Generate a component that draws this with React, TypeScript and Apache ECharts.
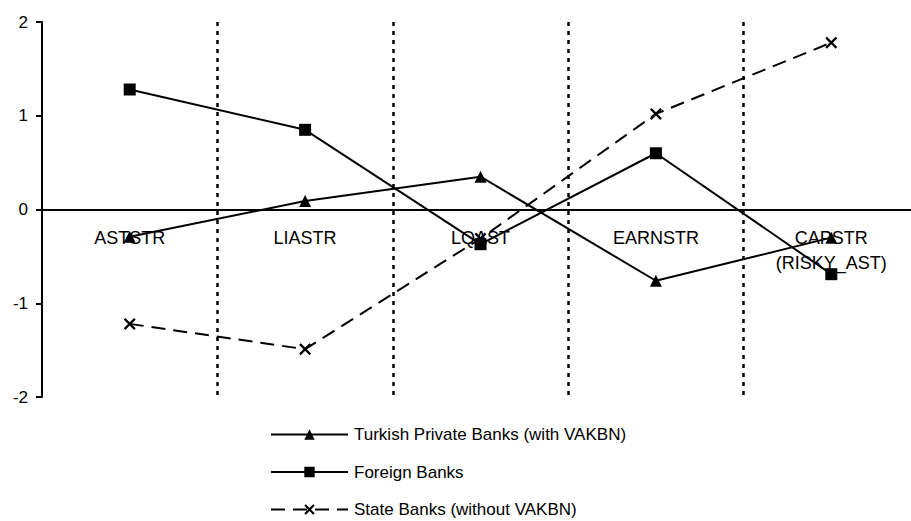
import React, { useEffect, useRef } from "react";
import * as echarts from "echarts";

const categories = ["ASTSTR", "LIASTR", "LQAST", "EARNSTR", "CAPSTR\n(RISKY_AST)"];
const turkishPrivate = [-0.29, 0.09, 0.35, -0.76, -0.3];
const foreignBanks = [1.28, 0.85, -0.37, 0.6, -0.69];
const stateBanks = [-1.22, -1.49, -0.31, 1.02, 1.78];
const yTicks = { min: -2, max: 2, interval: 1 };

const crossSymbol =
  "path://M0,1.4L1.4,0L5,3.6L8.6,0L10,1.4L6.4,5L10,8.6L8.6,10L5,6.4L1.4,10L0,8.6L3.6,5Z";

const FONT = "'Liberation Sans', Arial, sans-serif";

export default function App() {
  const ref = useRef<HTMLDivElement>(null);
  useEffect(() => {
    if (!ref.current) return;
    document.body.style.margin = "0";
    document.body.style.overflow = "hidden";
    document.documentElement.style.overflow = "hidden";
    const chart = echarts.init(ref.current, undefined, { renderer: "svg" });
    chart.setOption({
      animation: false,
      backgroundColor: "#ffffff",
      textStyle: { fontFamily: FONT, color: "#000" },
      grid: {
        left: 42,
        top: 22,
        height: 375,
        width: 877,
        containLabel: false,
        outerBoundsMode: "none",
      },
      legend: {
        orient: "vertical",
        left: 270,
        top: 426,
        padding: 0,
        itemWidth: 77,
        itemHeight: 13,
        itemGap: 20.5,
        textStyle: { fontFamily: FONT, fontSize: 17, color: "#000", padding: [0, 0, 0, 1] },
        data: [
          "Turkish Private Banks (with VAKBN)",
          "Foreign Banks",
          "State Banks (without VAKBN)",
        ],
      },
      xAxis: {
        type: "category",
        data: categories,
        boundaryGap: true,
        position: "bottom",
        offset: -187.5,
        axisLine: { onZero: false, lineStyle: { color: "#000", width: 2 } },
        axisTick: { show: false },
        axisLabel: {
          color: "#000",
          fontFamily: FONT,
          fontSize: 18,
          margin: 16,
          lineHeight: 25,
          interval: 0,
        },
        splitLine: {
          show: true,
          interval: (index: number) => index !== 0,
          lineStyle: { color: "#000", width: 2.5, type: [4, 5] },
        },
        z: 3,
      },
      yAxis: {
        type: "value",
        min: yTicks.min,
        max: yTicks.max,
        interval: yTicks.interval,
        position: "left",
        axisLine: { show: true, onZero: false, lineStyle: { color: "#000", width: 2 } },
        axisTick: { show: true, length: 6, lineStyle: { color: "#000", width: 2 } },
        axisLabel: { color: "#000", fontFamily: FONT, fontSize: 17, margin: 14 },
        splitLine: { show: false },
        z: 4,
      },
      series: [
        {
          name: "Turkish Private Banks (with VAKBN)",
          type: "line",
          data: turkishPrivate,
          symbol: "triangle",
          symbolSize: 12,
          itemStyle: { color: "#000" },
          lineStyle: { color: "#000", width: 2 },
          z: 4,
        },
        {
          name: "Foreign Banks",
          type: "line",
          data: foreignBanks,
          symbol: "rect",
          symbolSize: 12,
          itemStyle: { color: "#000" },
          lineStyle: { color: "#000", width: 2 },
          z: 4,
        },
        {
          name: "State Banks (without VAKBN)",
          type: "line",
          data: stateBanks,
          symbol: crossSymbol,
          symbolSize: 12,
          itemStyle: { color: "#000" },
          lineStyle: { color: "#000", width: 2, type: [14, 8] },
          z: 4,
        },
      ],
    });
    return () => chart.dispose();
  }, []);
  return (
    <div
      ref={ref}
      style={{ position: "absolute", left: 0, top: 0, width: 911, height: 521 }}
    />
  );
}
